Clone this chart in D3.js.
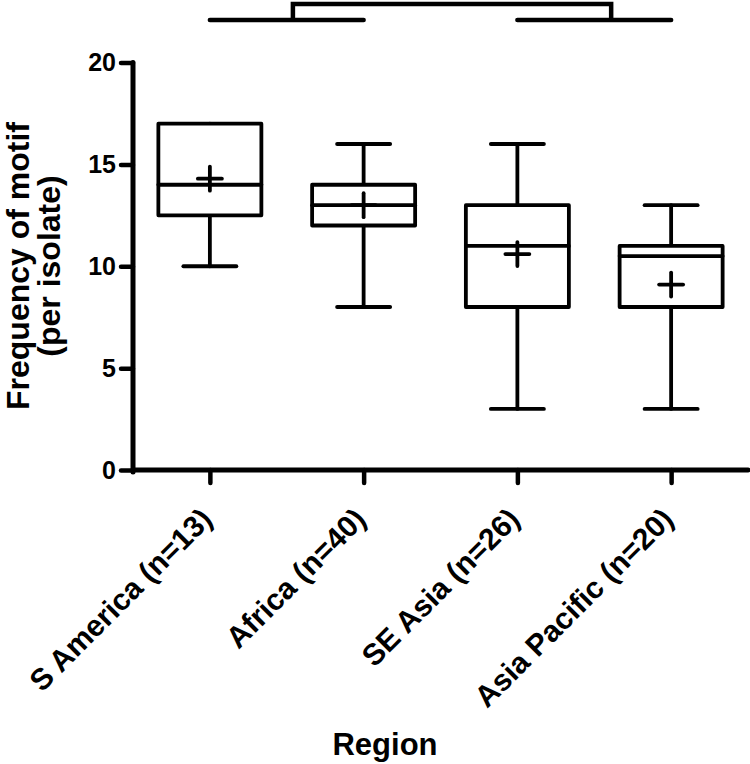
<!DOCTYPE html>
<html>
<head>
<meta charset="utf-8">
<script src="https://cdn.jsdelivr.net/npm/d3@7"></script>
<style>
  html, body { margin: 0; padding: 0; background: #fff; }
  svg { display: block; }
  text { font-family: "Liberation Sans", Arial, Helvetica, sans-serif; font-weight: bold; fill: #000; }
</style>
</head>
<body>
<svg id="chart" width="750" height="764"></svg>
<script>
// ---- data ----
const categories = ["S America (n=13)", "Africa (n=40)", "SE Asia (n=26)", "Asia Pacific (n=20)"];
const mins    = [10, 8, 3, 3];
const q1s     = [12.5, 12, 8, 8];
const medians = [14, 13, 11, 10.5];
const q3s     = [17, 14, 13, 11];
const maxs    = [17, 16, 16, 13];
const means   = [14.3, 13.0, 10.6, 9.1];
const yTicks  = [0, 5, 10, 15, 20];
// significance bracket: pairs of groups joined on top
const groupPairs = [[0, 1], [2, 3]];

const yTitleLines = ["Frequency of motif", "(per isolate)"];
const xTitle = "Region";

// ---- layout ----
const svg = d3.select("#chart");
const plotLeft = 133, plotRight = 748, plotTop = 62.5, plotBottom = 470;
const stroke = "#000";

const x = d3.scalePoint().domain(categories).range([plotLeft, plotRight]).padding(0.5);
const y = d3.scaleLinear().domain([0, 20]).range([plotBottom, plotTop]);
const step = x.step();
const boxW = step * 0.67;
const capW = step * 0.345;
const crossHalf = 12;

const data = categories.map((c, i) => ({
  c, min: mins[i], q1: q1s[i], med: medians[i], q3: q3s[i], max: maxs[i], mean: means[i]
}));

// ---- axes ----
const yAxis = d3.axisLeft(y).tickValues(yTicks).tickSize(12).tickPadding(5);
const gy = svg.append("g").attr("transform", `translate(${plotLeft},0)`).call(yAxis);
gy.select(".domain").remove();
gy.selectAll(".tick line").attr("stroke", stroke).attr("stroke-width", 4.5).attr("stroke-linecap", "round");
gy.selectAll(".tick text").attr("font-size", 25).attr("fill", "#000")
  .attr("font-family", "Liberation Sans, Arial, sans-serif").attr("font-weight", "bold");

const xAxis = d3.axisBottom(x).tickSize(13).tickFormat("");
const gx = svg.append("g").attr("transform", `translate(0,${plotBottom})`).call(xAxis);
gx.select(".domain").remove();
gx.selectAll(".tick line").attr("stroke", stroke).attr("stroke-width", 4.5).attr("stroke-linecap", "round");

// axis lines
svg.append("line").attr("x1", plotLeft).attr("x2", plotLeft).attr("y1", y(20)).attr("y2", plotBottom + 2)
  .attr("stroke", stroke).attr("stroke-width", 5).attr("stroke-linecap", "round");
svg.append("line").attr("x1", plotLeft).attr("x2", plotRight).attr("y1", plotBottom).attr("y2", plotBottom)
  .attr("stroke", stroke).attr("stroke-width", 5).attr("stroke-linecap", "round");

// category labels
svg.append("g").selectAll("text").data(categories).join("text")
  .attr("transform", d => `translate(${x(d) + 4},${plotBottom + 51}) rotate(-45)`)
  .attr("text-anchor", "end")
  .attr("font-size", 30)
  .text(d => d);

// axis titles
svg.append("text").attr("x", 385).attr("y", 755).attr("text-anchor", "middle")
  .attr("font-size", 31).text(xTitle);

const yt = svg.append("text").attr("transform", `translate(29,266) rotate(-90)`)
  .attr("text-anchor", "middle").attr("font-size", 32);
yt.selectAll("tspan").data(yTitleLines).join("tspan")
  .attr("x", 0).attr("dy", (d, i) => i === 0 ? 0 : 31).text(d => d);

// ---- boxes ----
const g = svg.append("g").attr("stroke", stroke).attr("stroke-width", 3.8).attr("fill", "none")
  .attr("stroke-linecap", "round").attr("stroke-linejoin", "round");

const b = g.selectAll("g.box").data(data).join("g").attr("class", "box");
// whiskers
b.append("line").attr("x1", d => x(d.c)).attr("x2", d => x(d.c)).attr("y1", d => y(d.q1)).attr("y2", d => y(d.min));
b.append("line").attr("x1", d => x(d.c)).attr("x2", d => x(d.c)).attr("y1", d => y(d.q3)).attr("y2", d => y(d.max));
b.append("line").attr("x1", d => x(d.c) - capW / 2).attr("x2", d => x(d.c) + capW / 2).attr("y1", d => y(d.min)).attr("y2", d => y(d.min));
b.filter(d => d.max > d.q3).append("line").attr("x1", d => x(d.c) - capW / 2).attr("x2", d => x(d.c) + capW / 2).attr("y1", d => y(d.max)).attr("y2", d => y(d.max));
// box
b.append("rect").attr("x", d => x(d.c) - boxW / 2).attr("width", boxW)
  .attr("y", d => y(d.q3)).attr("height", d => y(d.q1) - y(d.q3)).attr("fill", "#fff");
// median
b.append("line").attr("x1", d => x(d.c) - boxW / 2).attr("x2", d => x(d.c) + boxW / 2).attr("y1", d => y(d.med)).attr("y2", d => y(d.med));
// mean cross
b.append("line").attr("x1", d => x(d.c) - crossHalf).attr("x2", d => x(d.c) + crossHalf).attr("y1", d => y(d.mean)).attr("y2", d => y(d.mean));
b.append("line").attr("x1", d => x(d.c)).attr("x2", d => x(d.c)).attr("y1", d => y(d.mean) - crossHalf).attr("y2", d => y(d.mean) + crossHalf);

// ---- top bracket ----
const lineY = 20, bracketTop = 4;
const bracket = svg.append("g").attr("stroke", stroke).attr("stroke-width", 4.5).attr("fill", "none")
  .attr("stroke-linecap", "round");
groupPairs.forEach(([a, c]) => {
  bracket.append("line").attr("x1", x(categories[a])).attr("x2", x(categories[c]))
    .attr("y1", lineY).attr("y2", lineY);
});
const fracs = [0.54, 0.61];
const bx = groupPairs.map(([a, c], i) => x(categories[a]) + fracs[i] * (x(categories[c]) - x(categories[a])));
bracket.append("path").attr("stroke-linecap", "butt").attr("stroke-linejoin", "miter")
  .attr("d", `M${bx[0]},${lineY} V${bracketTop} H${bx[1]} V${lineY}`);
</script>
</body>
</html>
